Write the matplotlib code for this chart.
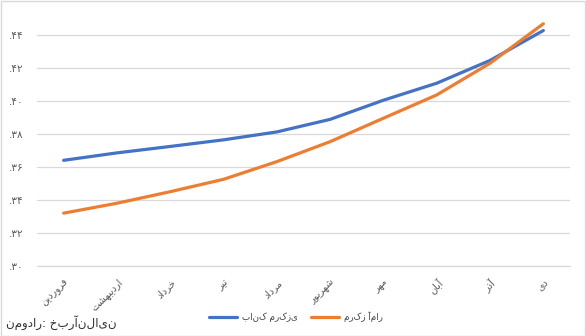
import matplotlib
matplotlib.use("Agg")
import matplotlib.pyplot as plt
from matplotlib.patches import Rectangle

plt.rcParams['font.family'] = ['DejaVu Sans']

# ---------------- data ----------------
months = ['فروردین', 'اردیبهشت', 'خرداد', 'تیر', 'مرداد',
          'شهریور', 'مهر', 'آبان', 'آذر', 'دی']
bank_markazi = [0.364, 0.3685, 0.3724, 0.3764, 0.3812,
                0.3888, 0.4004, 0.4107, 0.4245, 0.4426]
markaz_amar = [0.332, 0.338, 0.345, 0.3525, 0.3632,
               0.3753, 0.3895, 0.4036, 0.4228, 0.4467]
series_names = ['بانک مرکزی', 'مرکز آمار']
ytick_values = [0.30, 0.32, 0.34, 0.36, 0.38, 0.40, 0.42, 0.44]
ytick_labels = ['.۳۰', '.۳۲', '.۳۴', '.۳۶', '.۳۸', '.۴۰', '.۴۲', '.۴۴']
source_text = 'نمودار: خبرآنلاین'

# ---- shaping for rotated labels (rotated text is drawn without text layout) ----
FORMS = {
    'ا': ('\uFE8D', '\uFE8E'), 'آ': ('\uFE81', '\uFE82'),
    'د': ('\uFEA9', '\uFEAA'), 'ذ': ('\uFEAB', '\uFEAC'),
    'ر': ('\uFEAD', '\uFEAE'), 'ز': ('\uFEAF', '\uFEB0'),
    'و': ('\uFEED', '\uFEEE'),
    'ب': ('\uFE8F', '\uFE90', '\uFE91', '\uFE92'),
    'ت': ('\uFE95', '\uFE96', '\uFE97', '\uFE98'),
    'خ': ('\uFEA5', '\uFEA6', '\uFEA7', '\uFEA8'),
    'ش': ('\uFEB5', '\uFEB6', '\uFEB7', '\uFEB8'),
    'ف': ('\uFED1', '\uFED2', '\uFED3', '\uFED4'),
    'ل': ('\uFEDD', '\uFEDE', '\uFEDF', '\uFEE0'),
    'م': ('\uFEE1', '\uFEE2', '\uFEE3', '\uFEE4'),
    'ن': ('\uFEE5', '\uFEE6', '\uFEE7', '\uFEE8'),
    'ه': ('\uFEE9', '\uFEEA', '\uFEEB', '\uFEEC'),
    'ی': ('\uFBFC', '\uFBFD', '\uFBFE', '\uFBFF'),
    'ک': ('\uFB8E', '\uFB8F', '\uFB90', '\uFB91'),
}


def shape_word(w):
    out = []
    n = len(w)
    for i, c in enumerate(w):
        if c not in FORMS:
            out.append(c)
            continue
        prev = w[i - 1] if i > 0 else None
        nxt = w[i + 1] if i + 1 < n else None
        f = FORMS[c]
        jp = prev is not None and prev in FORMS and len(FORMS[prev]) == 4
        jn = len(f) == 4 and nxt is not None and nxt in FORMS
        if jp and jn:
            out.append(f[3])
        elif jp:
            out.append(f[1])
        elif jn:
            out.append(f[2])
        else:
            out.append(f[0])
    return ''.join(reversed(out))


# ---------------- figure ----------------
W, H = 586, 336
fig = plt.figure(figsize=(W / 100, H / 100), dpi=100)
ax = fig.add_axes([37 / W, 1 - 266 / H, (570 - 37) / W, (266 - 15) / H])

x = list(range(len(months)))
blue = '#4472C4'
orange = '#ED7D31'
ax.plot(x, bank_markazi, color=blue, lw=2.3, solid_capstyle='round',
        label=series_names[0], clip_on=False, zorder=3)
ax.plot(x, markaz_amar, color=orange, lw=2.3, solid_capstyle='round',
        label=series_names[1], clip_on=False, zorder=3)

ax.set_xlim(-0.5, len(months) - 0.5)
ax.set_ylim(0.30, 0.452)
ax.set_yticks(ytick_values)
ax.set_yticklabels(ytick_labels, color='#595959', fontsize=7.5)
ax.set_xticks(x)
ax.set_xticklabels([shape_word(m) for m in months], rotation=45, ha='right',
                   rotation_mode='anchor', color='#595959', fontsize=7)
ax.tick_params(axis='both', length=0)
ax.tick_params(axis='x', pad=8)
ax.tick_params(axis='y', pad=10)
for s in ['top', 'right', 'left']:
    ax.spines[s].set_visible(False)
ax.spines['bottom'].set_color('#D9D9D9')
ax.spines['bottom'].set_linewidth(0.9)
ax.grid(axis='y', color='#D9D9D9', lw=0.9)
ax.set_axisbelow(True)
ax.patch.set_visible(False)

leg = fig.legend(loc='center', bbox_to_anchor=(296 / W, 1 - 317 / H), ncol=2,
                 frameon=False, fontsize=6.3, handlelength=3.2, handletextpad=0.6,
                 columnspacing=1.5)
for t in leg.get_texts():
    t.set_color('#404040')

fig.text(6 / W, 1 - 323 / H, source_text, fontsize=8.6, color='#333333',
         ha='left', va='center')

fig.patches.append(Rectangle((0.5 / W, 0.5 / H), 1 - 1.5 / W, 1 - 1.5 / H,
                             transform=fig.transFigure, fill=False,
                             edgecolor='#D9D9D9', lw=1.0))

fig.savefig('out.png', dpi=100)
